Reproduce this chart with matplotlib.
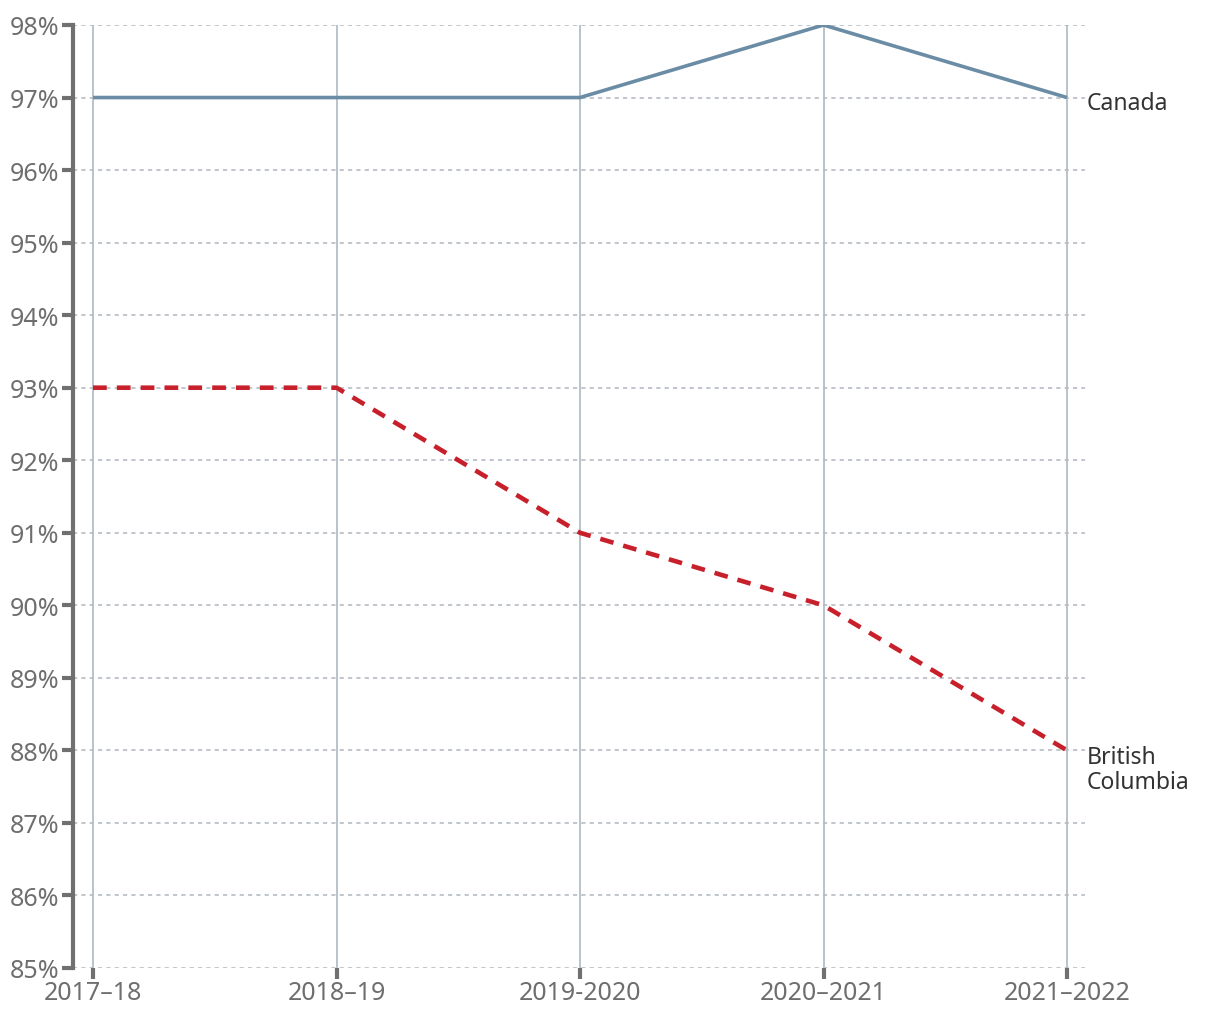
import matplotlib
matplotlib.use("Agg")
import matplotlib.pyplot as plt
from matplotlib.ticker import FuncFormatter

plt.rcParams['font.family'] = ['Noto Sans', 'DejaVu Sans']

years = ["2017–18", "2018–19", "2019-2020", "2020–2021", "2021–2022"]
canada = [97, 97, 97, 98, 97]
bc = [93, 93, 91, 90, 88]
yticks = list(range(85, 99))

fig = plt.figure(figsize=(12.2, 10.2), dpi=100)
ax = fig.add_axes([73/1220, 1-969/1020, (1085-73)/1220, (969-26)/1020])

x = list(range(len(years)))
for xi in x:
    ax.axvline(xi, color='#b3bec8', lw=1.3, zorder=1)
for yv in yticks:
    ax.axhline(yv, color='#b5bcc2', lw=1.2, ls=(0, (2.5, 2.5)), zorder=1)

ax.plot(x, canada, color='#6b8ca5', lw=2.6, zorder=3, solid_capstyle='butt')
ax.plot(x, bc, color='#c8202b', lw=3.3, ls=(0, (3, 2.2)), zorder=3)

ax.text(x[-1] + 0.082, canada[-1] - 0.07, "Canada", color='#333333', fontsize=16.5, va='center', ha='left')
ax.text(x[-1] + 0.082, bc[-1] - 0.26, "British\nColumbia", color='#333333', fontsize=16.5, va='center', ha='left', linespacing=1.05)

ax.set_xlim(-20/243.5, 4 + 18/243.5)
ax.set_ylim(85, 98)
ax.set_yticks(yticks)
ax.yaxis.set_major_formatter(FuncFormatter(lambda v, p: f"{int(v)}%"))
ax.set_xticks(x)
ax.set_xticklabels(years)

for s in ['top', 'right', 'bottom']:
    ax.spines[s].set_visible(False)
ax.spines['left'].set_color('#707070')
ax.spines['left'].set_linewidth(3)
ax.tick_params(axis='y', length=8, width=3, color='#707070', labelcolor='#6e6e6e', labelsize=18, pad=2)
ax.tick_params(axis='x', length=8, width=3, color='#707070', labelcolor='#6e6e6e', labelsize=18, pad=1)

fig.savefig("out.png", dpi=100)
